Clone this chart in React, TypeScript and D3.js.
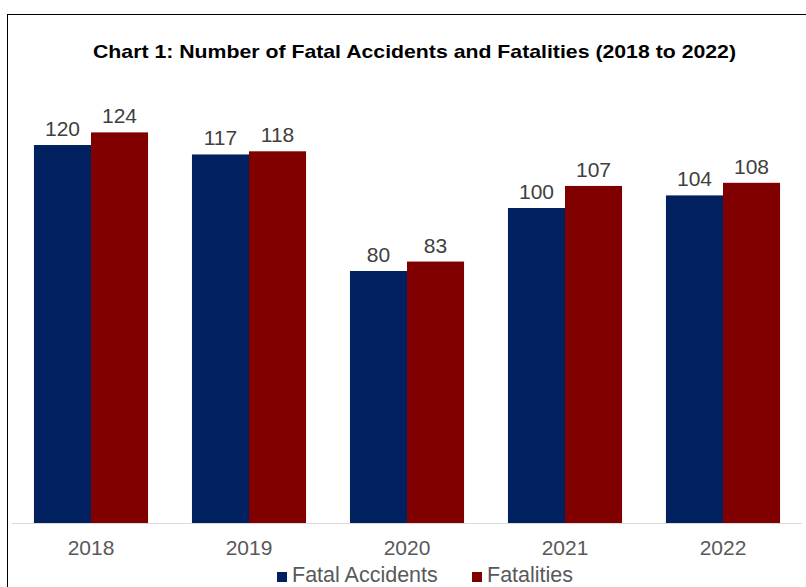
import React from "react";
import * as d3 from "d3";

const years = ["2018", "2019", "2020", "2021", "2022"];
const fatalAccidents = [120, 117, 80, 100, 104];
const fatalities = [124, 118, 83, 107, 108];
const seriesNames = ["Fatal Accidents", "Fatalities"];
const seriesColors = ["#002060", "#800000"];
const title = "Chart 1: Number of Fatal Accidents and Fatalities (2018 to 2022)";

export default function App() {
  const W = 806, H = 587;
  const plotLeft = 12, plotRight = 802, plotTop = 82, plotBottom = 523;
  const x = d3.scaleBand<string>().domain(years).range([plotLeft, plotRight]).paddingInner(0.278).paddingOuter(0.139);
  const inner = d3.scaleBand<string>().domain(seriesNames).range([0, x.bandwidth()]);
  const y = d3.scaleLinear().domain([0, 140]).range([plotBottom, plotTop]);
  const series = [fatalAccidents, fatalities];
  const font = "'Liberation Sans', Arial, sans-serif";
  return (
    <svg width={W} height={H} style={{ position: "absolute", left: 0, top: 0, background: "#fff" }}>
      <rect x={7.5} y={14.5} width={W} height={H} fill="#fff" stroke="#000" strokeWidth={1} />
      <text x={414.5} y={57.5} textAnchor="middle" fontFamily={font} fontWeight="bold" fontSize={17.7} fill="#000" textLength={643} lengthAdjust="spacingAndGlyphs">{title}</text>
      {series.map((vals, si) =>
        vals.map((v, i) => {
          const bx = (x(years[i]) as number) + (inner(seriesNames[si]) as number);
          const bw = inner.bandwidth();
          return (
            <g key={`${si}-${i}`}>
              <rect x={bx} y={y(v)} width={bw} height={plotBottom - y(v)} fill={seriesColors[si]} />
              <text x={bx + bw / 2} y={y(v) - 9} textAnchor="middle" fontFamily={font} fontSize={21} fill="#404040">{v}</text>
            </g>
          );
        })
      )}
      <line x1={plotLeft} x2={plotRight} y1={plotBottom + 0.5} y2={plotBottom + 0.5} stroke="#d9d9d9" strokeWidth={1} />
      {years.map((yr) => (
        <text key={yr} x={(x(yr) as number) + x.bandwidth() / 2} y={555} textAnchor="middle" fontFamily={font} fontSize={21} fill="#595959">{yr}</text>
      ))}
      <g>
        <rect x={277} y={572} width={10} height={10} fill={seriesColors[0]} />
        <text x={292} y={582} fontFamily={font} fontSize={21.5} fill="#595959">{seriesNames[0]}</text>
        <rect x={472} y={572} width={10} height={10} fill={seriesColors[1]} />
        <text x={487} y={582} fontFamily={font} fontSize={21.5} fill="#595959">{seriesNames[1]}</text>
      </g>
    </svg>
  );
}
